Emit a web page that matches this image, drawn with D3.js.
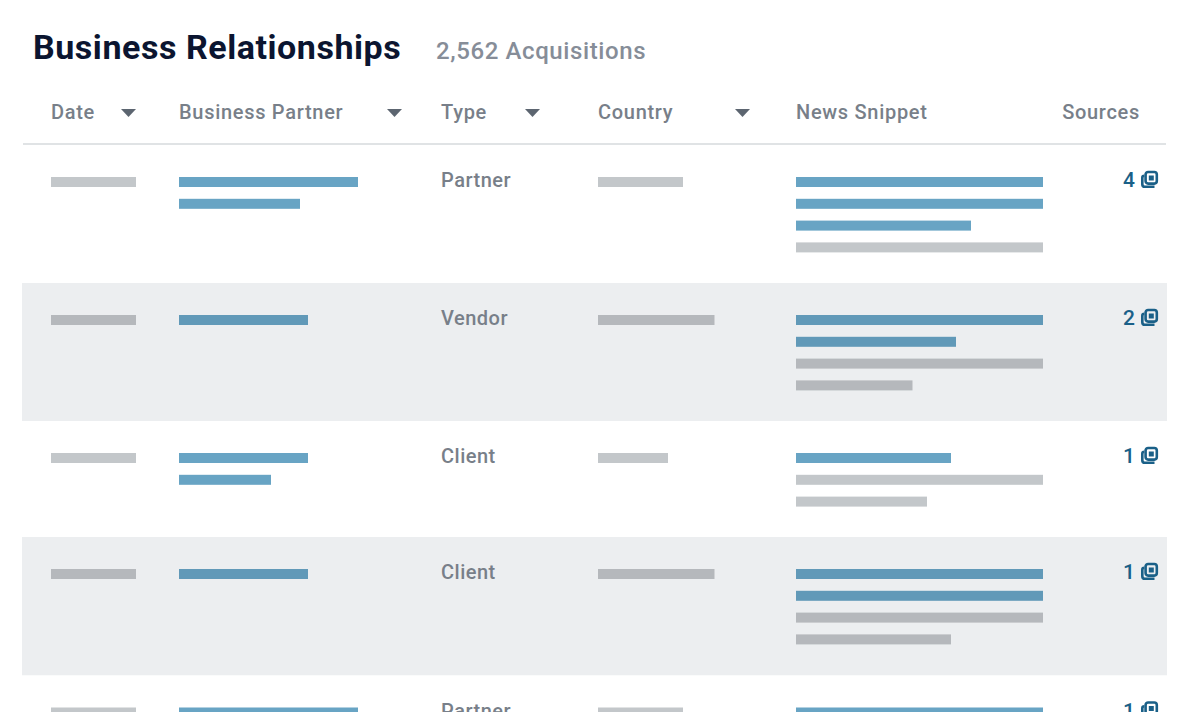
<!DOCTYPE html>
<html>
<head>
<meta charset="utf-8">
<script src="https://cdnjs.cloudflare.com/ajax/libs/d3/7.8.5/d3.min.js"></script>
<style>
    html, body { margin: 0; padding: 0; background: #fff; overflow: hidden; }
    text { font-family: Roboto, sans-serif; }
</style>
</head>
<body>
<svg id="chart" width="1200" height="712"></svg>
<script>
const title = 'Business Relationships';
const subtitle = '2,562 Acquisitions';
const columns = ['Date', 'Business Partner', 'Type', 'Country', 'News Snippet', 'Sources'];
const sortable = [true, true, true, true, false, false];

// ancho de las barras en unidades de la columna (247 = linea completa de noticia)
const dateBars = [85, 85, 85, 85, 85];
const partnerBars = [[179, 121], [129], [129, 92], [129], [179]];
const types = ['Partner', 'Vendor', 'Client', 'Client', 'Partner'];
const countryBars = [85, 116.5, 70, 116.5, 85];
const newsLinked = [[247, 247, 175], [247, 160], [155], [247, 247], [247]];
const newsPlain = [[247], [247, 116.5], [247, 131], [247, 155], []];
const sources = [4, 2, 1, 1, 1];
const rowHeights = [138, 138, 116, 138.5, 138];

const svg = d3.select('#chart');
const colX = d3.scaleOrdinal().domain(columns).range([51, 179, 441, 598, 796, 1140]);
const arrowX = d3.scaleOrdinal().domain(columns).range([128.5, 394.5, 532.5, 742.5, 0, 0]);
const barW = d3.scaleLinear().domain([0, 247]).range([0, 247]);

const BLUE = ['#68a4c4', '#6199b8'];
const GRAY = ['#c3c7ca', '#b5b8bc'];
const INK = '#787f89';
const LINK = '#1a6088';
const LINE_STEP = 21.8;
const BAR_H = 10;

svg.append('text').attr('x', 33).attr('y', 59)
    .attr('font-size', 34).attr('font-weight', 700).attr('fill', '#0b1530')
    .attr('letter-spacing', 0.55)
    .text(title);
svg.append('text').attr('x', 436).attr('y', 59)
    .attr('font-size', 24).attr('font-weight', 500).attr('fill', '#868d98')
    .attr('letter-spacing', 0.6)
    .text(subtitle);

// cabecera
svg.selectAll('.head').data(columns).join('text')
    .attr('class', 'head')
    .attr('x', d => d === 'Sources' ? 1140 : colX(d))
    .attr('y', 119)
    .attr('text-anchor', d => d === 'Sources' ? 'end' : 'start')
    .attr('font-size', 20).attr('font-weight', 500).attr('fill', INK)
    .attr('letter-spacing', 0.7)
    .text(d => d);

svg.selectAll('.arrow').data(columns.filter((d, i) => sortable[i])).join('path')
    .attr('class', 'arrow')
    .attr('d', d => {
        const x = arrowX(d);
        return d3.line()([[x - 7.5, 109], [x + 7.5, 109], [x, 117]]) + 'Z';
    })
    .attr('fill', '#5c6570');

svg.append('rect').attr('x', 23).attr('y', 143).attr('width', 1143).attr('height', 3).attr('fill', '#e0e3e5');

// filas
const rowTops = d3.cumsum([145].concat(rowHeights));
const rows = svg.selectAll('.row').data(types).join('g')
    .attr('class', 'row')
    .attr('transform', (d, i) => `translate(0,${rowTops[i]})`);

rows.append('rect')
    .attr('x', 22).attr('width', 1145)
    .attr('height', (d, i) => rowHeights[i])
    .attr('fill', (d, i) => i % 2 ? '#eceef0' : '#fff');

function addBars(row, rowIndex, x, widths, colors, startLine) {
    widths.forEach((w, line) => {
        row.append('rect')
            .attr('x', x)
            .attr('y', 32 + (startLine + line) * LINE_STEP)
            .attr('width', barW(w))
            .attr('height', BAR_H)
            .attr('fill', colors[rowIndex % 2]);
    });
}

rows.each(function (d, i) {
    const row = d3.select(this);
    addBars(row, i, colX('Date'), [dateBars[i]], GRAY, 0);
    addBars(row, i, colX('Business Partner'), partnerBars[i], BLUE, 0);
    addBars(row, i, colX('Country'), [countryBars[i]], GRAY, 0);
    addBars(row, i, colX('News Snippet'), newsLinked[i], BLUE, 0);
    addBars(row, i, colX('News Snippet'), newsPlain[i], GRAY, newsLinked[i].length);

    row.append('text')
        .attr('x', colX('Type')).attr('y', 42)
        .attr('font-size', 20).attr('font-weight', 500).attr('fill', INK)
        .attr('letter-spacing', 0.5)
        .text(d);

    row.append('text')
        .attr('x', 1135).attr('y', 42)
        .attr('text-anchor', 'end')
        .attr('font-size', 21).attr('font-weight', 500).attr('fill', LINK)
        .text(sources[i]);

    // icono de fuentes
    const icon = row.append('g').attr('transform', 'translate(1141,25.7)')
        .attr('fill', 'none').attr('stroke', LINK).attr('stroke-width', 2.6);
    icon.append('rect').attr('x', 4.6).attr('y', 1.3).attr('width', 11.2).attr('height', 11.6).attr('rx', 2.5);
    icon.append('path').attr('d', 'M3.3,5 Q1.3,5 1.3,7 V13.5 Q1.3,16.1 4,16.1 H13.5');
    icon.append('rect').attr('x', 7.8).attr('y', 4.8).attr('width', 5).attr('height', 5)
        .attr('fill', LINK).attr('stroke', 'none');
});
</script>
</body>
</html>
